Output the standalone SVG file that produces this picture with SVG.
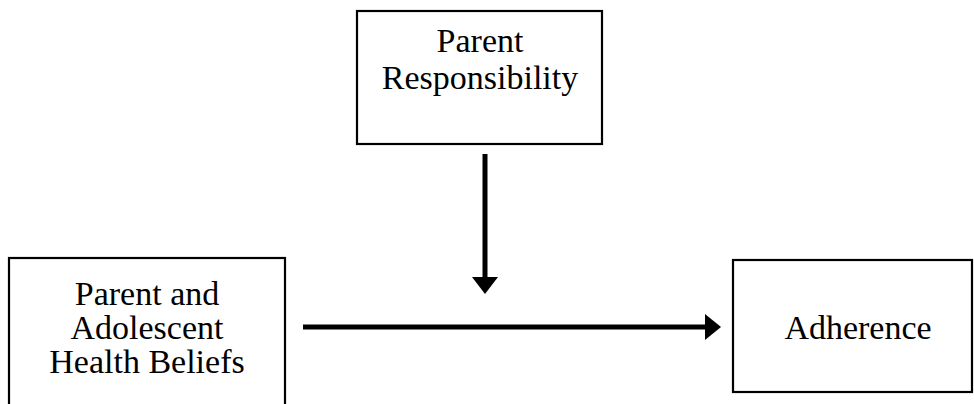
<svg xmlns="http://www.w3.org/2000/svg" width="974" height="404" viewBox="0 0 974 404">
<style>
.box{fill:#fff;stroke:#000;stroke-width:2.2}
.t{font-family:"Liberation Serif","Times New Roman",serif;font-size:34px;fill:#000;text-anchor:middle}
.c{stroke:#000;stroke-width:5;fill:none}
.h{fill:#000;stroke:none}
</style>
<rect width="974" height="404" fill="#fff"/>
<g id="node-parent-responsibility">
<rect class="box" x="357" y="11" width="245" height="133"/>
<text class="t" x="480" y="52">Parent</text>
<text class="t" x="480" y="89">Responsibility</text>
</g>
<g id="node-health-beliefs">
<rect class="box" x="9" y="258" width="276" height="160"/>
<text class="t" x="147" y="305">Parent and</text>
<text class="t" x="147" y="339">Adolescent</text>
<text class="t" x="147" y="373">Health Beliefs</text>
</g>
<g id="node-adherence">
<rect class="box" x="733" y="260" width="239" height="132"/>
<text class="t" x="858" y="339">Adherence</text>
</g>
<g id="connectors">
<line class="c" x1="485" y1="154" x2="485" y2="279"/>
<polygon class="h" points="472,277 498,277 485,294"/>
<line class="c" x1="303" y1="327" x2="707" y2="327"/>
<polygon class="h" points="705,314 721,327 705,340"/>
</g>
</svg>
